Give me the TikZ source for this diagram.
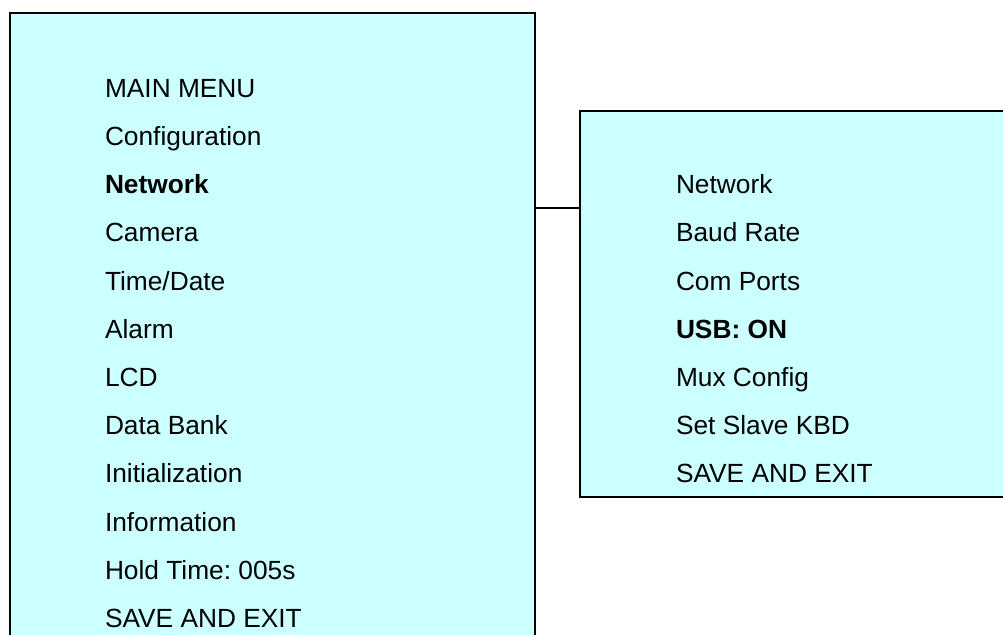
\documentclass[tikz,border=0pt]{standalone}
\usepackage{fontspec}
\setmainfont{Liberation Sans}
\definecolor{boxfill}{HTML}{CCFFFF}
\frenchspacing
\begin{document}
\begin{tikzpicture}[x=1pt,y=-1pt,
  menubox/.style={draw=black, line width=2pt, fill=boxfill, rectangle, inner sep=0pt, outer sep=0pt, anchor=north west},
  item/.style={anchor=base west, inner sep=0pt, outer sep=0pt, font=\fontsize{26.3}{30}\selectfont},
  link/.style={draw=black, line width=2pt}]
\useasboundingbox (0,0) rectangle (1003,634);
\begin{scope}
\clip (0,0) rectangle (1003,634);
\node[menubox, minimum width=525pt, minimum height=660pt] (leftbox) at (10,13) {};
\node[menubox, minimum width=450pt, minimum height=386pt] (rightbox) at (580,111) {};
\coordinate (jn) at (0,208);
\draw[link] (leftbox.east |- jn) -- (rightbox.west |- jn);
\end{scope}
\def\rowsep{48.2}
\def\top{97.3}
\node[item] (l0) at (105,\top) {MAIN MENU};
\node[item] (l1) at (105,\top+1*\rowsep) {Configuration};
\node[item] (l2) at (105,\top+2*\rowsep) {\bfseries Network};
\node[item] (l3) at (105,\top+3*\rowsep) {Camera};
\node[item] (l4) at (105,\top+4*\rowsep) {Time/Date};
\node[item] (l5) at (105,\top+5*\rowsep) {Alarm};
\node[item] (l6) at (105,\top+6*\rowsep) {LCD};
\node[item] (l7) at (105,\top+7*\rowsep) {Data Bank};
\node[item] (l8) at (105,\top+8*\rowsep) {Initialization};
\node[item] (l9) at (105,\top+9*\rowsep) {Information};
\node[item] (l10) at (105,\top+10*\rowsep) {Hold Time: 005s};
\node[item] (l11) at (105,\top+11*\rowsep) {SAVE AND EXIT};
\node[item] (r0) at (676,\top+2*\rowsep) {Network};
\node[item] (r1) at (676,\top+3*\rowsep) {Baud Rate};
\node[item] (r2) at (676,\top+4*\rowsep) {Com Ports};
\node[item] (r3) at (676,\top+5*\rowsep) {\bfseries USB: ON};
\node[item] (r4) at (676,\top+6*\rowsep) {Mux Config};
\node[item] (r5) at (676,\top+7*\rowsep) {Set Slave KBD};
\node[item] (r6) at (676,\top+8*\rowsep) {SAVE AND EXIT};
\end{tikzpicture}
\end{document}
